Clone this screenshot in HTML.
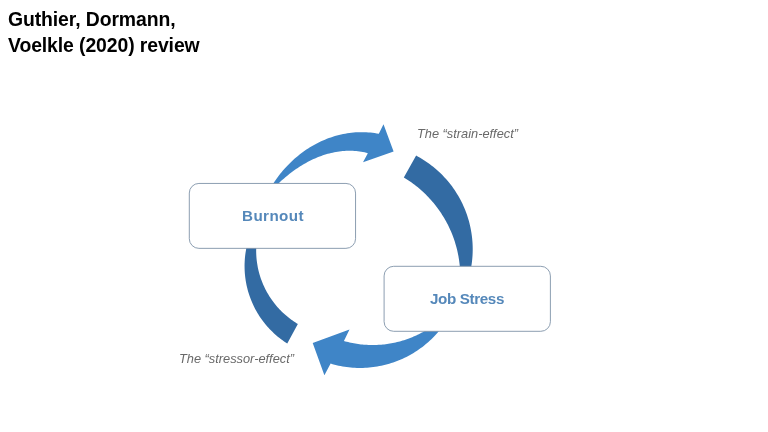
<!DOCTYPE html>
<html><head><meta charset="utf-8"><title>Guthier, Dormann, Voelkle (2020) review</title>
<style>
html,body{margin:0;padding:0;background:#fff;}
body{width:768px;height:432px;position:relative;overflow:hidden;font-family:"Liberation Sans",sans-serif;}
.title{position:absolute;left:7.5px;top:6.5px;font-weight:bold;font-size:19.4px;line-height:25.6px;color:#000;white-space:nowrap;letter-spacing:-0.1px}
.lbl{position:absolute;font-style:italic;font-size:12.8px;color:#696969;white-space:nowrap;line-height:16px}
.box{position:absolute;box-sizing:border-box;display:flex;align-items:center;justify-content:center;font-weight:bold;font-size:15.2px;color:#5588ba;}
.box span{display:inline-block;white-space:nowrap}
svg{position:absolute;left:0;top:0}
.title,.lbl,.box{will-change:transform}
</style></head><body>
<div class="title">Guthier, Dormann,<br>Voelkle (2020) review</div>
<svg width="768" height="432" viewBox="0 0 768 432">
<path d="M272.78 184.17 L273.95 182.40 L275.15 180.65 L276.37 178.92 L277.63 177.22 L278.91 175.53 L280.21 173.87 L281.54 172.23 L282.90 170.62 L284.29 169.03 L285.70 167.46 L287.14 165.92 L288.61 164.41 L290.10 162.92 L291.61 161.46 L293.16 160.02 L294.72 158.62 L296.32 157.24 L297.93 155.89 L299.58 154.57 L301.24 153.29 L302.94 152.03 L304.65 150.81 L306.39 149.61 L308.15 148.46 L309.93 147.33 L311.74 146.24 L313.57 145.19 L315.41 144.17 L317.28 143.19 L319.17 142.25 L321.08 141.34 L323.00 140.47 L324.95 139.64 L326.91 138.86 L328.89 138.11 L330.88 137.40 L332.89 136.74 L334.91 136.12 L336.94 135.54 L338.99 135.00 L341.05 134.51 L343.12 134.07 L345.20 133.67 L347.28 133.31 L349.38 133.00 L351.48 132.74 L353.58 132.53 L355.69 132.36 L357.81 132.24 L359.92 132.17 L362.03 132.15 L364.15 132.18 L366.26 132.26 L368.37 132.38 L370.47 132.56 L372.57 132.79 L374.66 133.06 L376.75 133.39 L378.82 133.76 L383.50 124.20 L393.60 151.50 L363.00 162.20 L367.83 153.14 L366.20 152.72 L364.55 152.35 L362.90 152.01 L361.24 151.72 L359.57 151.47 L357.89 151.26 L356.21 151.08 L354.53 150.95 L352.84 150.86 L351.15 150.80 L349.45 150.79 L347.76 150.81 L346.07 150.87 L344.38 150.97 L342.69 151.10 L341.01 151.27 L339.33 151.48 L337.65 151.72 L335.98 151.99 L334.31 152.30 L332.66 152.64 L331.01 153.01 L329.37 153.42 L327.73 153.86 L326.11 154.32 L324.49 154.82 L322.89 155.35 L321.30 155.90 L319.71 156.48 L318.14 157.09 L316.58 157.73 L315.03 158.39 L313.49 159.08 L311.97 159.79 L310.46 160.53 L308.96 161.29 L307.47 162.07 L306.00 162.88 L304.53 163.71 L303.08 164.56 L301.65 165.42 L300.22 166.31 L298.81 167.22 L297.41 168.15 L296.02 169.10 L294.65 170.06 L293.28 171.04 L291.93 172.04 L290.59 173.06 L289.26 174.09 L287.94 175.14 L286.64 176.20 L285.34 177.29 L284.05 178.38 L282.78 179.49 L281.51 180.62 L280.25 181.76 L279.00 182.92 L277.76 184.09 Z" fill="#3f85c7"/>
<path d="M439.75 330.12 L438.44 331.70 L437.09 333.25 L435.72 334.77 L434.32 336.27 L432.88 337.73 L431.42 339.17 L429.93 340.58 L428.41 341.95 L426.86 343.30 L425.29 344.62 L423.69 345.90 L422.07 347.15 L420.42 348.37 L418.74 349.56 L417.05 350.71 L415.33 351.83 L413.59 352.92 L411.83 353.97 L410.04 354.98 L408.24 355.96 L406.42 356.90 L404.58 357.81 L402.72 358.68 L400.85 359.51 L398.96 360.30 L397.05 361.06 L395.13 361.78 L393.19 362.46 L391.25 363.10 L389.28 363.70 L387.31 364.26 L385.33 364.78 L383.34 365.27 L381.33 365.71 L379.32 366.12 L377.30 366.48 L375.28 366.80 L373.25 367.08 L371.21 367.33 L369.17 367.53 L367.13 367.69 L365.08 367.81 L363.03 367.89 L360.98 367.93 L358.93 367.92 L356.88 367.88 L354.83 367.80 L352.78 367.67 L350.74 367.50 L348.70 367.30 L346.66 367.05 L344.63 366.76 L342.61 366.43 L340.59 366.06 L338.58 365.65 L336.58 365.21 L334.59 364.72 L332.60 364.19 L330.63 363.62 L324.40 375.30 L312.70 343.00 L349.50 329.50 L343.93 341.00 L345.33 341.39 L346.73 341.77 L348.14 342.12 L349.55 342.45 L350.97 342.76 L352.39 343.05 L353.82 343.32 L355.25 343.58 L356.69 343.81 L358.12 344.02 L359.56 344.21 L361.00 344.38 L362.45 344.54 L363.89 344.67 L365.34 344.78 L366.79 344.87 L368.24 344.94 L369.69 344.99 L371.15 345.02 L372.60 345.03 L374.05 345.02 L375.50 344.99 L376.95 344.94 L378.41 344.87 L379.85 344.77 L381.30 344.66 L382.75 344.53 L384.19 344.38 L385.64 344.21 L387.07 344.01 L388.51 343.80 L389.95 343.57 L391.38 343.31 L392.80 343.04 L394.22 342.75 L395.64 342.44 L397.06 342.10 L398.47 341.75 L399.87 341.38 L401.27 340.99 L402.66 340.58 L404.05 340.15 L405.43 339.70 L406.80 339.23 L408.17 338.74 L409.53 338.23 L410.89 337.71 L412.23 337.16 L413.57 336.60 L414.90 336.02 L416.22 335.42 L417.54 334.80 L418.84 334.16 L420.14 333.50 L421.42 332.83 L422.70 332.14 L423.97 331.43 L425.23 330.70 L426.47 329.96 Z" fill="#3f85c7"/>
<path d="M416.14 155.62 L418.14 156.70 L420.11 157.82 L422.06 158.98 L423.98 160.18 L425.88 161.42 L427.75 162.71 L429.59 164.03 L431.41 165.39 L433.19 166.79 L434.94 168.23 L436.67 169.71 L438.35 171.22 L440.01 172.77 L441.64 174.35 L443.22 175.97 L444.78 177.63 L446.30 179.31 L447.78 181.03 L449.22 182.78 L450.63 184.56 L452.00 186.37 L453.33 188.20 L454.61 190.07 L455.86 191.96 L457.07 193.88 L458.24 195.83 L459.36 197.80 L460.44 199.79 L461.48 201.81 L462.48 203.85 L463.43 205.91 L464.34 207.99 L465.20 210.08 L466.02 212.20 L466.79 214.33 L467.51 216.48 L468.19 218.65 L468.83 220.82 L469.41 223.02 L469.95 225.22 L470.44 227.43 L470.88 229.66 L471.28 231.89 L471.63 234.13 L471.93 236.38 L472.18 238.64 L472.38 240.89 L472.54 243.16 L472.64 245.42 L472.70 247.69 L472.71 249.96 L472.67 252.23 L472.58 254.49 L472.44 256.76 L472.25 259.02 L472.02 261.27 L471.74 263.52 L471.41 265.77 L471.03 268.01 L459.90 267.47 L459.73 265.61 L459.54 263.75 L459.31 261.89 L459.06 260.04 L458.77 258.20 L458.45 256.36 L458.10 254.52 L457.73 252.69 L457.32 250.87 L456.89 249.05 L456.42 247.24 L455.92 245.44 L455.40 243.65 L454.85 241.86 L454.27 240.09 L453.66 238.33 L453.02 236.57 L452.35 234.83 L451.66 233.10 L450.93 231.37 L450.18 229.67 L449.40 227.97 L448.60 226.29 L447.77 224.62 L446.91 222.96 L446.02 221.32 L445.11 219.69 L444.17 218.08 L443.21 216.48 L442.22 214.90 L441.21 213.33 L440.17 211.78 L439.10 210.25 L438.02 208.73 L436.90 207.23 L435.77 205.75 L434.61 204.29 L433.43 202.85 L432.22 201.42 L430.99 200.02 L429.74 198.63 L428.47 197.27 L427.18 195.92 L425.86 194.60 L424.52 193.29 L423.17 192.01 L421.79 190.75 L420.39 189.51 L418.98 188.29 L417.54 187.10 L416.09 185.93 L414.62 184.78 L413.12 183.65 L411.62 182.55 L410.09 181.47 L408.55 180.42 L406.99 179.39 L405.41 178.38 L403.82 177.40 Z" fill="#336ba3"/>
<path d="M246.55 247.18 L246.17 249.03 L245.84 250.89 L245.54 252.75 L245.29 254.62 L245.07 256.49 L244.89 258.37 L244.75 260.25 L244.65 262.13 L244.58 264.02 L244.56 265.91 L244.58 267.79 L244.63 269.68 L244.72 271.56 L244.85 273.44 L245.02 275.32 L245.23 277.20 L245.48 279.07 L245.77 280.93 L246.09 282.79 L246.45 284.64 L246.85 286.49 L247.29 288.32 L247.77 290.15 L248.28 291.96 L248.84 293.77 L249.43 295.56 L250.05 297.34 L250.71 299.10 L251.41 300.86 L252.15 302.59 L252.92 304.32 L253.72 306.02 L254.56 307.71 L255.44 309.38 L256.35 311.04 L257.29 312.67 L258.27 314.28 L259.28 315.88 L260.32 317.45 L261.40 319.00 L262.50 320.53 L263.64 322.03 L264.81 323.51 L266.01 324.97 L267.24 326.40 L268.50 327.81 L269.78 329.19 L271.10 330.54 L272.44 331.86 L273.81 333.16 L275.21 334.43 L276.63 335.67 L278.08 336.88 L279.55 338.06 L281.04 339.21 L282.56 340.33 L284.11 341.41 L285.67 342.47 L287.26 343.49 L297.85 323.99 L296.52 323.18 L295.20 322.35 L293.90 321.49 L292.62 320.61 L291.35 319.70 L290.10 318.78 L288.87 317.83 L287.65 316.86 L286.45 315.86 L285.27 314.85 L284.11 313.81 L282.97 312.75 L281.84 311.67 L280.74 310.57 L279.66 309.45 L278.60 308.32 L277.55 307.16 L276.53 305.98 L275.54 304.79 L274.56 303.57 L273.61 302.34 L272.67 301.10 L271.77 299.83 L270.88 298.55 L270.02 297.26 L269.18 295.94 L268.37 294.62 L267.58 293.27 L266.81 291.92 L266.07 290.55 L265.36 289.17 L264.67 287.77 L264.00 286.36 L263.36 284.94 L262.75 283.51 L262.16 282.07 L261.60 280.61 L261.07 279.15 L260.56 277.68 L260.09 276.20 L259.63 274.71 L259.21 273.21 L258.81 271.71 L258.44 270.19 L258.10 268.67 L257.78 267.15 L257.49 265.62 L257.24 264.08 L257.00 262.54 L256.80 261.00 L256.63 259.45 L256.48 257.90 L256.36 256.35 L256.27 254.80 L256.21 253.24 L256.18 251.68 L256.17 250.13 L256.20 248.57 L256.25 247.01 Z" fill="#336ba3"/>
<rect x="189.3" y="183.45" width="166.25" height="64.9" rx="9.6" ry="9.6" fill="#fff" stroke="#7f93a8" stroke-width="0.9"/>
<rect x="384.1" y="266.3" width="166.3" height="65.0" rx="9.6" ry="9.6" fill="#fff" stroke="#7f93a8" stroke-width="0.9"/>
</svg>
<div class="box" style="left:188.8px;top:182.9px;width:167.2px;height:66px"><span style="letter-spacing:0.4px;position:relative;left:0.4px;top:-0.7px">Burnout</span></div>
<div class="box" style="left:383.6px;top:265.8px;width:167.2px;height:66px"><span style="letter-spacing:-0.35px;position:relative;left:-0.6px;top:-0.7px">Job Stress</span></div>
<div class="lbl" style="left:417.4px;top:126px">The “strain-effect”</div>
<div class="lbl" style="left:178.8px;top:350.9px">The “stressor-effect”</div>
</body></html>
